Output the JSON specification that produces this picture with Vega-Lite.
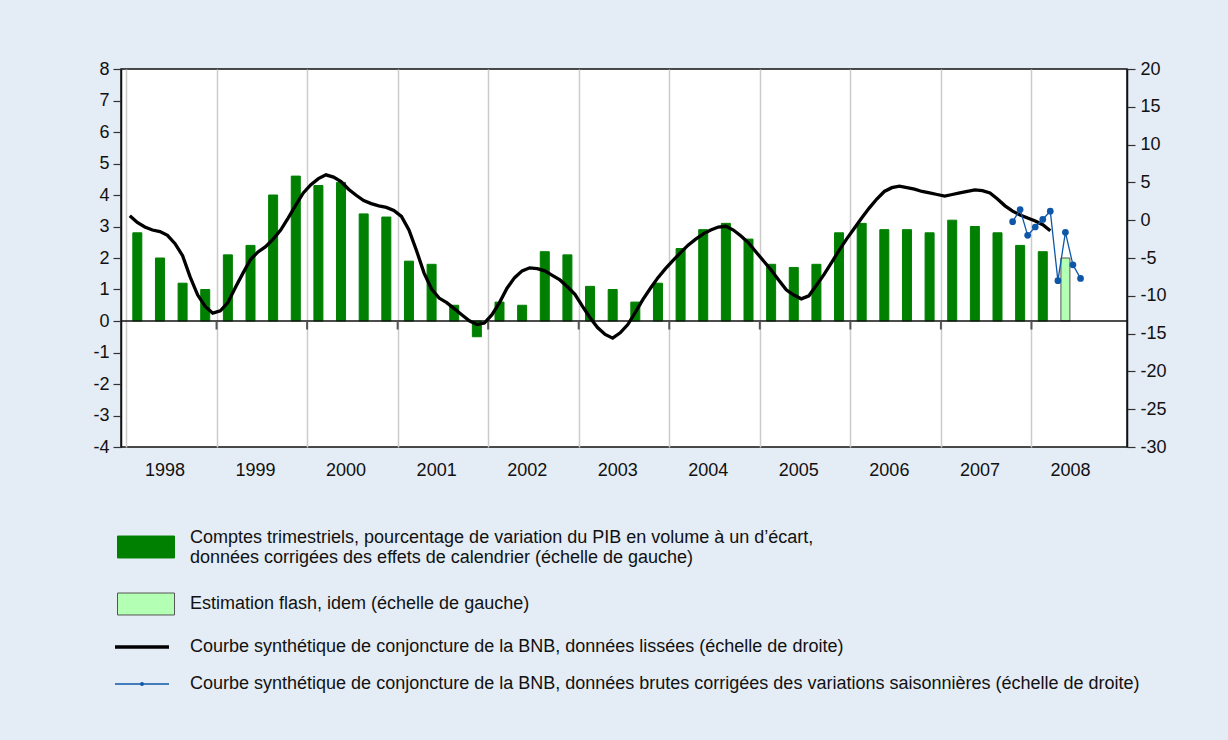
{
  "$schema": "https://vega.github.io/schema/vega-lite/v6.json",
  "width": 1006,
  "height": 378,
  "autosize": {"type": "none"},
  "padding": {"left": 121, "top": 69, "right": 101, "bottom": 293},
  "background": "#E4ECF5",
  "config": {
    "font": "Liberation Sans",
    "view": {"fill": "white", "stroke": "#111111", "strokeWidth": 1.5},
    "axis": {"labelFont": "Liberation Sans", "labelFontSize": 18, "labelColor": "#111111", "title": null},
    "axisX": {"grid": true, "gridColor": "#CCCCCC", "gridWidth": 1.5, "domain": false, "ticks": false, "labelFlush": false, "labelOverlap": false},
    "axisY": {"grid": false, "domain": true, "domainColor": "#111111", "domainWidth": 1.5, "ticks": true, "tickSize": 8, "tickColor": "#333333", "tickWidth": 1.2},
    "legend": {"labelFont": "Liberation Sans", "labelFontSize": 18, "labelColor": "#111111", "labelLimit": 0, "title": null, "padding": 0}
  },
  "datasets": {
    "trim": [
      {"t": 1998.125, "v": 2.8, "s": "comptes"}, {"t": 1998.375, "v": 2.0, "s": "comptes"}, {"t": 1998.625, "v": 1.2, "s": "comptes"}, {"t": 1998.875, "v": 1.0, "s": "comptes"},
      {"t": 1999.125, "v": 2.1, "s": "comptes"}, {"t": 1999.375, "v": 2.4, "s": "comptes"}, {"t": 1999.625, "v": 4.0, "s": "comptes"}, {"t": 1999.875, "v": 4.6, "s": "comptes"},
      {"t": 2000.125, "v": 4.3, "s": "comptes"}, {"t": 2000.375, "v": 4.4, "s": "comptes"}, {"t": 2000.625, "v": 3.4, "s": "comptes"}, {"t": 2000.875, "v": 3.3, "s": "comptes"},
      {"t": 2001.125, "v": 1.9, "s": "comptes"}, {"t": 2001.375, "v": 1.8, "s": "comptes"}, {"t": 2001.625, "v": 0.5, "s": "comptes"}, {"t": 2001.875, "v": -0.5, "s": "comptes"},
      {"t": 2002.125, "v": 0.6, "s": "comptes"}, {"t": 2002.375, "v": 0.5, "s": "comptes"}, {"t": 2002.625, "v": 2.2, "s": "comptes"}, {"t": 2002.875, "v": 2.1, "s": "comptes"},
      {"t": 2003.125, "v": 1.1, "s": "comptes"}, {"t": 2003.375, "v": 1.0, "s": "comptes"}, {"t": 2003.625, "v": 0.6, "s": "comptes"}, {"t": 2003.875, "v": 1.2, "s": "comptes"},
      {"t": 2004.125, "v": 2.3, "s": "comptes"}, {"t": 2004.375, "v": 2.9, "s": "comptes"}, {"t": 2004.625, "v": 3.1, "s": "comptes"}, {"t": 2004.875, "v": 2.6, "s": "comptes"},
      {"t": 2005.125, "v": 1.8, "s": "comptes"}, {"t": 2005.375, "v": 1.7, "s": "comptes"}, {"t": 2005.625, "v": 1.8, "s": "comptes"}, {"t": 2005.875, "v": 2.8, "s": "comptes"},
      {"t": 2006.125, "v": 3.1, "s": "comptes"}, {"t": 2006.375, "v": 2.9, "s": "comptes"}, {"t": 2006.625, "v": 2.9, "s": "comptes"}, {"t": 2006.875, "v": 2.8, "s": "comptes"},
      {"t": 2007.125, "v": 3.2, "s": "comptes"}, {"t": 2007.375, "v": 3.0, "s": "comptes"}, {"t": 2007.625, "v": 2.8, "s": "comptes"}, {"t": 2007.875, "v": 2.4, "s": "comptes"},
      {"t": 2008.125, "v": 2.2, "s": "comptes"}, {"t": 2008.375, "v": 2.0, "s": "flash"}
    ],
    "courbes": [
      {"t": 1998.042, "v": 0.6, "c": "lisse"}, {"t": 1998.125, "v": -0.3, "c": "lisse"}, {"t": 1998.208, "v": -0.9, "c": "lisse"}, {"t": 1998.292, "v": -1.3, "c": "lisse"}, {"t": 1998.375, "v": -1.5, "c": "lisse"}, {"t": 1998.458, "v": -2.0, "c": "lisse"}, {"t": 1998.542, "v": -3.1, "c": "lisse"}, {"t": 1998.625, "v": -4.7, "c": "lisse"}, {"t": 1998.708, "v": -7.5, "c": "lisse"}, {"t": 1998.792, "v": -9.9, "c": "lisse"}, {"t": 1998.875, "v": -11.4, "c": "lisse"}, {"t": 1998.958, "v": -12.3, "c": "lisse"},
      {"t": 1999.042, "v": -12.0, "c": "lisse"}, {"t": 1999.125, "v": -10.9, "c": "lisse"}, {"t": 1999.208, "v": -8.9, "c": "lisse"}, {"t": 1999.292, "v": -7.0, "c": "lisse"}, {"t": 1999.375, "v": -5.2, "c": "lisse"}, {"t": 1999.458, "v": -4.2, "c": "lisse"}, {"t": 1999.542, "v": -3.5, "c": "lisse"}, {"t": 1999.625, "v": -2.5, "c": "lisse"}, {"t": 1999.708, "v": -1.3, "c": "lisse"}, {"t": 1999.792, "v": 0.3, "c": "lisse"}, {"t": 1999.875, "v": 2.0, "c": "lisse"}, {"t": 1999.958, "v": 3.6, "c": "lisse"},
      {"t": 2000.042, "v": 4.7, "c": "lisse"}, {"t": 2000.125, "v": 5.5, "c": "lisse"}, {"t": 2000.208, "v": 6.0, "c": "lisse"}, {"t": 2000.292, "v": 5.7, "c": "lisse"}, {"t": 2000.375, "v": 5.1, "c": "lisse"}, {"t": 2000.458, "v": 4.1, "c": "lisse"}, {"t": 2000.542, "v": 3.3, "c": "lisse"}, {"t": 2000.625, "v": 2.6, "c": "lisse"}, {"t": 2000.708, "v": 2.2, "c": "lisse"}, {"t": 2000.792, "v": 1.9, "c": "lisse"}, {"t": 2000.875, "v": 1.7, "c": "lisse"}, {"t": 2000.958, "v": 1.3, "c": "lisse"},
      {"t": 2001.042, "v": 0.5, "c": "lisse"}, {"t": 2001.125, "v": -1.3, "c": "lisse"}, {"t": 2001.208, "v": -4.0, "c": "lisse"}, {"t": 2001.292, "v": -7.0, "c": "lisse"}, {"t": 2001.375, "v": -9.1, "c": "lisse"}, {"t": 2001.458, "v": -10.3, "c": "lisse"}, {"t": 2001.542, "v": -10.9, "c": "lisse"}, {"t": 2001.625, "v": -11.7, "c": "lisse"}, {"t": 2001.708, "v": -12.5, "c": "lisse"}, {"t": 2001.792, "v": -13.3, "c": "lisse"}, {"t": 2001.875, "v": -13.8, "c": "lisse"}, {"t": 2001.958, "v": -13.6, "c": "lisse"},
      {"t": 2002.042, "v": -12.5, "c": "lisse"}, {"t": 2002.125, "v": -10.9, "c": "lisse"}, {"t": 2002.208, "v": -9.0, "c": "lisse"}, {"t": 2002.292, "v": -7.6, "c": "lisse"}, {"t": 2002.375, "v": -6.7, "c": "lisse"}, {"t": 2002.458, "v": -6.3, "c": "lisse"}, {"t": 2002.542, "v": -6.4, "c": "lisse"}, {"t": 2002.625, "v": -6.7, "c": "lisse"}, {"t": 2002.708, "v": -7.3, "c": "lisse"}, {"t": 2002.792, "v": -7.9, "c": "lisse"}, {"t": 2002.875, "v": -8.8, "c": "lisse"}, {"t": 2002.958, "v": -9.8, "c": "lisse"},
      {"t": 2003.042, "v": -11.4, "c": "lisse"}, {"t": 2003.125, "v": -12.9, "c": "lisse"}, {"t": 2003.208, "v": -14.2, "c": "lisse"}, {"t": 2003.292, "v": -15.1, "c": "lisse"}, {"t": 2003.375, "v": -15.6, "c": "lisse"}, {"t": 2003.458, "v": -14.9, "c": "lisse"}, {"t": 2003.542, "v": -13.8, "c": "lisse"}, {"t": 2003.625, "v": -12.2, "c": "lisse"}, {"t": 2003.708, "v": -10.5, "c": "lisse"}, {"t": 2003.792, "v": -9.0, "c": "lisse"}, {"t": 2003.875, "v": -7.6, "c": "lisse"}, {"t": 2003.958, "v": -6.4, "c": "lisse"},
      {"t": 2004.042, "v": -5.3, "c": "lisse"}, {"t": 2004.125, "v": -4.3, "c": "lisse"}, {"t": 2004.208, "v": -3.3, "c": "lisse"}, {"t": 2004.292, "v": -2.5, "c": "lisse"}, {"t": 2004.375, "v": -1.8, "c": "lisse"}, {"t": 2004.458, "v": -1.3, "c": "lisse"}, {"t": 2004.542, "v": -0.9, "c": "lisse"}, {"t": 2004.625, "v": -0.8, "c": "lisse"}, {"t": 2004.708, "v": -1.3, "c": "lisse"}, {"t": 2004.792, "v": -2.1, "c": "lisse"}, {"t": 2004.875, "v": -3.0, "c": "lisse"}, {"t": 2004.958, "v": -4.2, "c": "lisse"},
      {"t": 2005.042, "v": -5.4, "c": "lisse"}, {"t": 2005.125, "v": -6.6, "c": "lisse"}, {"t": 2005.208, "v": -7.9, "c": "lisse"}, {"t": 2005.292, "v": -9.2, "c": "lisse"}, {"t": 2005.375, "v": -9.9, "c": "lisse"}, {"t": 2005.458, "v": -10.4, "c": "lisse"}, {"t": 2005.542, "v": -10.0, "c": "lisse"}, {"t": 2005.625, "v": -8.6, "c": "lisse"}, {"t": 2005.708, "v": -7.2, "c": "lisse"}, {"t": 2005.792, "v": -5.6, "c": "lisse"}, {"t": 2005.875, "v": -4.0, "c": "lisse"}, {"t": 2005.958, "v": -2.5, "c": "lisse"},
      {"t": 2006.042, "v": -1.1, "c": "lisse"}, {"t": 2006.125, "v": 0.3, "c": "lisse"}, {"t": 2006.208, "v": 1.6, "c": "lisse"}, {"t": 2006.292, "v": 2.8, "c": "lisse"}, {"t": 2006.375, "v": 3.8, "c": "lisse"}, {"t": 2006.458, "v": 4.3, "c": "lisse"}, {"t": 2006.542, "v": 4.5, "c": "lisse"}, {"t": 2006.625, "v": 4.3, "c": "lisse"}, {"t": 2006.708, "v": 4.1, "c": "lisse"}, {"t": 2006.792, "v": 3.8, "c": "lisse"}, {"t": 2006.875, "v": 3.6, "c": "lisse"}, {"t": 2006.958, "v": 3.4, "c": "lisse"},
      {"t": 2007.042, "v": 3.2, "c": "lisse"}, {"t": 2007.125, "v": 3.4, "c": "lisse"}, {"t": 2007.208, "v": 3.6, "c": "lisse"}, {"t": 2007.292, "v": 3.8, "c": "lisse"}, {"t": 2007.375, "v": 4.0, "c": "lisse"}, {"t": 2007.458, "v": 3.9, "c": "lisse"}, {"t": 2007.542, "v": 3.6, "c": "lisse"}, {"t": 2007.625, "v": 2.8, "c": "lisse"}, {"t": 2007.708, "v": 1.9, "c": "lisse"}, {"t": 2007.792, "v": 1.2, "c": "lisse"}, {"t": 2007.875, "v": 0.7, "c": "lisse"}, {"t": 2007.958, "v": 0.3, "c": "lisse"},
      {"t": 2008.042, "v": -0.1, "c": "lisse"}, {"t": 2008.125, "v": -0.6, "c": "lisse"}, {"t": 2008.208, "v": -1.4, "c": "lisse"},
      {"t": 2007.792, "v": -0.2, "c": "brutes"}, {"t": 2007.875, "v": 1.4, "c": "brutes"}, {"t": 2007.958, "v": -2.0, "c": "brutes"}, {"t": 2008.042, "v": -0.9, "c": "brutes"}, {"t": 2008.125, "v": 0.1, "c": "brutes"}, {"t": 2008.208, "v": 1.2, "c": "brutes"}, {"t": 2008.292, "v": -8.0, "c": "brutes"}, {"t": 2008.375, "v": -1.6, "c": "brutes"}, {"t": 2008.458, "v": -5.9, "c": "brutes"}, {"t": 2008.542, "v": -7.7, "c": "brutes"}
    ],
    "annees": [
      {"an": 1999}, {"an": 2000}, {"an": 2001}, {"an": 2002}, {"an": 2003}, {"an": 2004}, {"an": 2005}, {"an": 2006}, {"an": 2007}, {"an": 2008}
    ]
  },
  "layer": [
    {
      "layer": [
        {
          "data": {"name": "trim"},
          "mark": {"type": "bar", "size": 9, "strokeWidth": 1},
          "encoding": {
            "x": {"field": "t", "type": "quantitative", "scale": {"domain": [1998, 2009], "nice": false, "zero": false},
              "axis": {"values": [1998, 1999, 2000, 2001, 2002, 2003, 2004, 2005, 2006, 2007, 2008], "format": "d", "labelOffset": 38.5, "labelPadding": 14}},
            "y": {"field": "v", "type": "quantitative", "scale": {"domain": [-4, 8], "nice": false, "zero": false},
              "axis": {"orient": "left", "values": [-4, -3, -2, -1, 0, 1, 2, 3, 4, 5, 6, 7, 8], "labelExpr": "'' + datum.value", "labelPadding": 4}},
            "fill": {"field": "s", "type": "nominal", "scale": {"domain": ["comptes", "flash"], "range": ["#008000", "#B3FFB3"]},
              "legend": {"orient": "none", "legendX": -4, "legendY": 449, "direction": "vertical", "symbolType": "M-1,-0.385H1V0.385H-1Z", "symbolSize": 3249, "symbolStrokeWidth": 1, "labelOffset": 15, "rowPadding": 8,
                "labelBaseline": {"expr": "datum.value == 'comptes' ? 'bottom' : 'middle'"},
                "labelExpr": "datum.value == 'comptes' ? ['Comptes trimestriels, pourcentage de variation du PIB en volume à un d\u2019écart,', 'données corrigées des effets de calendrier (échelle de gauche)'] : 'Estimation flash, idem (échelle de gauche)'",
                "encode": {"labels": {"lineHeight": {"value": 23}}}}},
            "stroke": {"field": "s", "type": "nominal", "scale": {"domain": ["comptes", "flash"], "range": ["#008000", "#555555"]},
              "legend": {"orient": "none", "legendX": -4, "legendY": 449, "direction": "vertical", "symbolType": "M-1,-0.385H1V0.385H-1Z", "symbolSize": 3249, "symbolStrokeWidth": 1, "labelOffset": 15, "rowPadding": 8,
                "labelBaseline": {"expr": "datum.value == 'comptes' ? 'bottom' : 'middle'"},
                "labelExpr": "datum.value == 'comptes' ? ['Comptes trimestriels, pourcentage de variation du PIB en volume à un d\u2019écart,', 'données corrigées des effets de calendrier (échelle de gauche)'] : 'Estimation flash, idem (échelle de gauche)'",
                "encode": {"labels": {"lineHeight": {"value": 23}}}}}
          }
        },
        {
          "data": {"values": [{}]},
          "mark": {"type": "rule", "color": "#111111", "strokeWidth": 1.5},
          "encoding": {
            "y": {"datum": 0, "type": "quantitative",
              "axis": {"orient": "left", "values": [-4, -3, -2, -1, 0, 1, 2, 3, 4, 5, 6, 7, 8], "labelExpr": "'' + datum.value", "labelPadding": 4}}
          }
        },
        {
          "data": {"name": "annees"},
          "mark": {"type": "rule", "color": "#555555", "strokeWidth": 2},
          "encoding": {
            "x": {"field": "an", "type": "quantitative",
              "axis": {"values": [1998, 1999, 2000, 2001, 2002, 2003, 2004, 2005, 2006, 2007, 2008], "format": "d", "labelOffset": 38.5, "labelPadding": 14}},
            "y": {"datum": 0, "type": "quantitative",
              "axis": {"orient": "left", "values": [-4, -3, -2, -1, 0, 1, 2, 3, 4, 5, 6, 7, 8], "labelExpr": "'' + datum.value", "labelPadding": 4}},
            "y2": {"datum": -0.27}
          }
        }
      ]
    },
    {
      "layer": [
        {
          "data": {"name": "courbes"},
          "mark": {"type": "line"},
          "encoding": {
            "x": {"field": "t", "type": "quantitative", "scale": {"domain": [1998, 2009], "nice": false, "zero": false},
              "axis": {"values": [1998, 1999, 2000, 2001, 2002, 2003, 2004, 2005, 2006, 2007, 2008], "format": "d", "labelOffset": 38.5, "labelPadding": 14}},
            "y": {"field": "v", "type": "quantitative", "scale": {"domain": [-30, 20], "nice": false, "zero": false},
              "axis": {"orient": "right", "values": [-30, -25, -20, -15, -10, -5, 0, 5, 10, 15, 20], "labelExpr": "'' + datum.value", "labelPadding": 5}},
            "color": {"field": "c", "type": "nominal", "scale": {"domain": ["lisse", "brutes"], "range": ["#000000", "#0E57A8"]},
              "legend": {"orient": "none", "legendX": -8, "legendY": 549, "direction": "vertical", "symbolSize": 2916, "rowPadding": -3, "labelOffset": 19,
                "symbolType": {"expr": "datum.value == 'brutes' ? 'M-1,0H1M-0.05,0A0.05,0.05,0,1,1,0.05,0A0.05,0.05,0,1,1,-0.05,0' : 'M-1,0H1'"},
                "symbolStrokeWidth": {"expr": "datum.value == 'brutes' ? 2.2 : 3.3"},
                "labelExpr": "datum.value == 'lisse' ? 'Courbe synthétique de conjoncture de la BNB, données lissées (échelle de droite)' : 'Courbe synthétique de conjoncture de la BNB, données brutes corrigées des variations saisonnières (échelle de droite)'"}},
            "strokeWidth": {"field": "c", "type": "ordinal", "scale": {"domain": ["lisse", "brutes"], "range": [3.3, 1.3]}, "legend": null}
          }
        },
        {
          "data": {"name": "courbes"},
          "transform": [{"filter": "datum.c == 'brutes'"}],
          "mark": {"type": "point", "filled": true, "size": 45, "color": "#0E57A8", "opacity": 1},
          "encoding": {
            "x": {"field": "t", "type": "quantitative",
              "axis": {"values": [1998, 1999, 2000, 2001, 2002, 2003, 2004, 2005, 2006, 2007, 2008], "format": "d", "labelOffset": 38.5, "labelPadding": 14}},
            "y": {"field": "v", "type": "quantitative",
              "axis": {"orient": "right", "values": [-30, -25, -20, -15, -10, -5, 0, 5, 10, 15, 20], "labelExpr": "'' + datum.value", "labelPadding": 5}}
          }
        }
      ]
    }
  ],
  "resolve": {"scale": {"y": "independent"}}
}
